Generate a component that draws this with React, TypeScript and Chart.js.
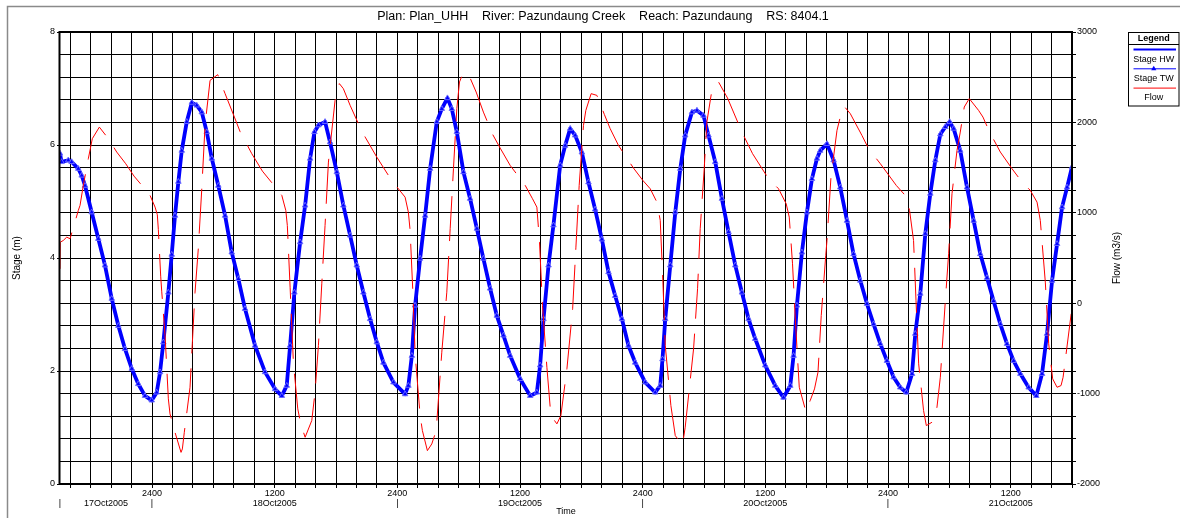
import React, { useEffect, useRef } from 'react';
import { Chart, registerables } from 'chart.js';

Chart.register(...registerables);

const FONT = '"Liberation Sans", Arial, Helvetica, sans-serif';

const titleText = 'Plan: Plan_UHH    River: Pazundaung Creek    Reach: Pazundaung    RS: 8404.1';
const stageAxisTitle = 'Stage (m)';
const flowAxisTitle = 'Flow (m3/s)';
const timeAxisTitle = 'Time';

// time in hours counted from 17Oct2005 0000
const timeMin = 15;
const timeMax = 114;
const timeTickHours = [24, 36, 48, 60, 72, 84, 96, 108];
const timeTickLabels = ['2400', '1200', '2400', '1200', '2400', '1200', '2400', '1200'];
const dateLabelHours = [19.5, 36, 60, 84, 108];
const dateLabels = ['17Oct2005', '18Oct2005', '19Oct2005', '20Oct2005', '21Oct2005'];
const dayMarkHours = [15, 24, 48, 72, 96];

const stageHours = [
  15.00, 15.15, 15.81, 16.14, 16.79, 17.12, 17.45, 18.10, 18.75, 19.40,
  20.06, 20.71, 21.36, 22.02, 22.66, 23.32, 23.97, 24.46, 24.79, 25.11,
  25.60, 25.93, 26.25, 26.58, 26.91, 27.40, 27.89, 28.38, 28.87, 29.36,
  29.85, 30.49, 31.15, 31.80, 32.45, 33.10, 34.08, 35.06, 36.04, 36.70,
  37.18, 37.51, 37.93, 38.49, 38.98, 39.47, 39.89, 40.28, 40.93, 41.42,
  42.08, 42.72, 43.38, 44.03, 44.68, 45.34, 45.99, 46.64, 47.62, 48.76,
  49.08, 49.42, 49.74, 50.23, 50.72, 51.21, 51.86, 52.35, 52.90, 53.33,
  53.82, 54.47, 55.12, 55.78, 56.42, 57.08, 57.73, 58.38, 59.04, 60.02,
  61.00, 61.65, 61.97, 62.30, 62.79, 63.27, 63.93, 64.42, 64.91, 65.40,
  66.05, 66.70, 67.35, 68.01, 68.66, 69.31, 69.97, 70.61, 71.27, 72.25,
  73.23, 73.72, 73.94, 74.21, 74.70, 75.19, 75.68, 76.16, 76.82, 77.31,
  77.95, 78.44, 79.10, 79.75, 80.40, 81.06, 81.71, 82.36, 83.01, 83.99,
  84.97, 85.78, 86.44, 86.76, 87.09, 87.58, 88.07, 88.56, 89.05, 89.37,
  90.03, 90.68, 91.33, 91.99, 92.63, 93.29, 93.94, 94.59, 95.25, 95.90,
  96.55, 97.20, 97.79, 98.35, 98.67, 99.16, 99.65, 100.14, 100.63, 101.12,
  101.61, 102.03, 102.42, 103.07, 103.73, 104.38, 105.03, 105.69, 106.33, 106.99,
  107.64, 108.29, 108.95, 109.76, 110.51, 111.07, 111.56, 112.05, 112.54, 113.03,
  113.52, 114.00,
];

const stageValues = [
  5.85, 5.70, 5.73, 5.70, 5.58, 5.46, 5.28, 4.81, 4.34, 3.87,
  3.28, 2.80, 2.39, 2.04, 1.77, 1.56, 1.48, 1.62, 1.98, 2.51,
  3.39, 4.06, 4.75, 5.35, 5.90, 6.41, 6.75, 6.70, 6.58, 6.23,
  5.76, 5.28, 4.75, 4.10, 3.63, 3.10, 2.45, 1.98, 1.68, 1.56,
  1.74, 2.45, 3.39, 4.28, 4.93, 5.76, 6.23, 6.35, 6.41, 6.05,
  5.52, 4.93, 4.40, 3.87, 3.39, 2.92, 2.51, 2.15, 1.80, 1.59,
  1.74, 2.27, 3.16, 3.99, 4.75, 5.58, 6.41, 6.64, 6.83, 6.64,
  6.23, 5.52, 5.05, 4.52, 3.99, 3.46, 2.98, 2.63, 2.27, 1.86,
  1.56, 1.62, 2.10, 2.92, 3.87, 4.58, 5.64, 5.99, 6.29, 6.17,
  5.87, 5.34, 4.86, 4.33, 3.75, 3.33, 2.92, 2.45, 2.15, 1.80,
  1.62, 1.74, 2.21, 2.92, 3.87, 4.81, 5.58, 6.17, 6.58, 6.61,
  6.52, 6.17, 5.70, 5.05, 4.46, 3.87, 3.39, 2.92, 2.57, 2.10,
  1.74, 1.53, 1.74, 2.27, 3.16, 4.10, 4.81, 5.40, 5.76, 5.90,
  6.02, 5.73, 5.25, 4.66, 4.07, 3.60, 3.19, 2.83, 2.48, 2.18,
  1.89, 1.71, 1.62, 1.95, 2.66, 3.37, 4.43, 5.14, 5.73, 6.19,
  6.32, 6.41, 6.29, 5.90, 5.25, 4.66, 4.07, 3.65, 3.24, 2.83,
  2.48, 2.18, 1.95, 1.71, 1.56, 1.95, 2.66, 3.60, 4.25, 4.90,
  5.25, 5.61,
];

const flowHours = [
  15.00, 15.03, 15.32, 15.66, 15.98, 16.37, 16.79, 16.96, 17.28, 17.77,
  18.16, 18.85, 19.73, 20.55, 21.43, 22.24, 23.15, 23.81, 24.30, 24.52,
  24.62, 24.85, 24.95, 25.28, 25.60, 25.76, 26.25, 26.84, 26.97, 27.16,
  27.72, 27.95, 28.21, 28.53, 28.87, 29.19, 29.68, 30.43, 31.15, 32.06,
  32.61, 33.76, 34.80, 35.72, 36.70, 37.09, 37.24, 37.51, 37.83, 38.26,
  38.55, 38.98, 39.63, 39.95, 40.28, 40.61, 40.93, 41.26, 41.91, 42.33,
  42.72, 43.38, 44.19, 44.85, 45.99, 47.13, 48.05, 48.76, 49.08, 49.25,
  49.52, 49.74, 50.23, 50.45, 50.94, 51.37, 51.80, 52.35, 52.84, 53.17,
  53.49, 53.82, 54.08, 54.47, 55.12, 55.71, 56.42, 57.34, 58.06, 59.04,
  60.51, 61.22, 61.65, 61.91, 62.20, 62.63, 63.02, 63.61, 64.00, 64.59,
  65.15, 65.47, 65.79, 66.21, 66.44, 66.96, 67.52, 68.26, 68.82, 69.63,
  71.10, 72.02, 72.74, 73.39, 73.72, 73.98, 74.21, 74.76, 75.19, 75.90,
  76.16, 76.98, 77.37, 77.63, 78.02, 78.28, 78.77, 79.42, 80.30, 81.71,
  82.75, 84.31, 85.29, 86.04, 86.34, 86.66, 86.93, 87.32, 87.97, 88.39,
  88.81, 89.15, 89.47, 89.91, 90.03, 90.42, 91.01, 91.33, 91.72, 92.31,
  93.45, 94.10, 95.25, 96.81, 97.69, 98.11, 98.50, 98.74, 99.00, 99.48,
  99.75, 100.30, 100.79, 101.12, 101.61, 101.93, 102.26, 102.75, 103.07, 103.46,
  103.95, 104.86, 105.29, 105.94, 106.99, 108.13, 109.11, 109.92, 110.58, 110.90,
  111.39, 111.72, 112.11, 112.54, 112.93, 113.13, 113.92,
];

const flowValues = [
  380, 675, 694, 731, 713, 860, 1026, 1082, 1303, 1598,
  1820, 1948, 1820, 1672, 1543, 1406, 1284, 1192, 1063, 979,
  816, 299, 133, -358, -1058, -1224, -1428, -1650, -1612, -1428,
  -930, -432, 122, 602, 1266, 1967, 2465, 2528, 2318, 2059,
  1900, 1654, 1461, 1333, 1192, 1026, 860, 177, -653, -1169,
  -1335, -1483, -1298, -985, -468, 215, 860, 1561, 2244, 2429,
  2373, 2189, 1986, 1838, 1616, 1414, 1273, 1173, 1007, 805,
  122, -560, -1243, -1409, -1631, -1557, -1409, -542, 122, 824,
  1488, 2152, 2447, 2557, 2491, 2336, 2114, 1864, 1716, 1524,
  1303, 1156, 1063, 675, -25, -708, -1243, -1335, -1243, -726,
  -62, 620, 1303, 1967, 2133, 2318, 2299, 2086, 1931, 1746,
  1495, 1358, 1266, 1118, 916, 233, -468, -1132, -1465, -1568,
  -1372, -505, 160, 824, 1488, 2004, 2355, 2447, 2270, 1893,
  1654, 1377, 1266, 1100, 952, 436, -173, -930, -1199, -1077,
  -948, -764, -136, 528, 694, 1395, 1912, 2059, 2177, 2097,
  1856, 1709, 1543, 1303, 1192, 1026, 694, 30, -671, -1188,
  -1354, -1317, -1151, -819, 30, 547, 1211, 1690, 1893, 2170,
  2263, 2133, 2059, 1893, 1672, 1488, 1340, 1248, 1118, 916,
  233, -449, -837, -930, -911, -819, -117,
];

const BLUE = '#0000ff';
const RED = '#ff0000';

function timeLabel(v: number): string | string[] {
  const i = timeTickHours.indexOf(v);
  const line1 = i >= 0 ? timeTickLabels[i] : '';
  const d = dateLabelHours.indexOf(v);
  const m = dayMarkHours.indexOf(v);
  const line2 = d >= 0 ? dateLabels[d] : m >= 0 ? '|' : '';
  if (!line1 && !line2) return '';
  return [line1, line2];
}

function isGridHour(v: number | undefined) {
  return v !== undefined && Math.abs(v % 2) < 1e-9 && v > timeMin;
}

const decorPlugin = {
  id: 'decor',
  beforeDraw(chart: any) {
    const ctx = chart.ctx;
    ctx.save();
    ctx.fillStyle = '#ffffff';
    ctx.fillRect(0, 0, chart.width, chart.height);
    ctx.strokeStyle = '#8a8a8a';
    ctx.lineWidth = 1.5;
    ctx.beginPath();
    ctx.moveTo(7.5, chart.height);
    ctx.lineTo(7.5, 6.5);
    ctx.lineTo(chart.width, 6.5);
    ctx.stroke();
    ctx.fillStyle = '#000';
    ctx.font = `12.5px ${FONT}`;
    ctx.textAlign = 'center';
    ctx.textBaseline = 'middle';
    ctx.fillText(titleText, 603, 17);
    ctx.restore();
  },
  afterDatasetsDraw(chart: any) {
    const { ctx, chartArea: a } = chart;
    ctx.save();
    ctx.strokeStyle = '#000';
    ctx.lineWidth = 2;
    ctx.strokeRect(a.left - 0.5, a.top, a.right - a.left + 0.5, a.bottom - a.top);
    ctx.restore();
  },
  afterDraw(chart: any) {
    const ctx = chart.ctx;
    const a = chart.chartArea;
    ctx.save();
    // right axis title (reads bottom to top)
    ctx.fillStyle = '#000';
    ctx.font = `10px ${FONT}`;
    ctx.textAlign = 'center';
    ctx.textBaseline = 'middle';
    ctx.translate(1117, (a.top + a.bottom) / 2);
    ctx.rotate(-Math.PI / 2);
    ctx.fillText(flowAxisTitle, 0, 0);
    ctx.restore();

    // legend box
    ctx.save();
    const lx = 1128.5, ly = 32.5, lw = 50.5, lh = 73.5;
    ctx.fillStyle = '#fff';
    ctx.fillRect(lx, ly, lw, lh);
    ctx.strokeStyle = '#000';
    ctx.lineWidth = 1;
    ctx.strokeRect(lx, ly, lw, lh);
    ctx.beginPath();
    ctx.moveTo(lx, 44.5);
    ctx.lineTo(lx + lw, 44.5);
    ctx.stroke();
    ctx.fillStyle = '#000';
    ctx.font = `bold 9px ${FONT}`;
    ctx.textAlign = 'center';
    ctx.textBaseline = 'middle';
    const cx = lx + lw / 2;
    ctx.fillText('Legend', cx, 38.5);
    const dsets = chart.data.datasets;
    dsets.forEach((ds: any, i: number) => {
      const lineY = 49.5 + i * 19.3;
      const textY = 59.7 + i * 19.0;
      ctx.strokeStyle = ds.borderColor;
      ctx.lineWidth = i === 0 ? 2 : 1;
      ctx.beginPath();
      ctx.moveTo(lx + 5, lineY);
      ctx.lineTo(lx + lw - 3, lineY);
      ctx.stroke();
      if (ds.pointRadius && ds.pointRadius > 0) {
        ctx.fillStyle = ds.borderColor;
        ctx.beginPath();
        ctx.moveTo(cx, lineY - 3);
        ctx.lineTo(cx + 2.6, lineY + 1.5);
        ctx.lineTo(cx - 2.6, lineY + 1.5);
        ctx.closePath();
        ctx.fill();
      }
      ctx.fillStyle = '#000';
      ctx.font = `9px ${FONT}`;
      ctx.fillText(ds.label, cx, textY);
    });
    ctx.restore();
  },
};

export default function App() {
  const ref = useRef<HTMLCanvasElement | null>(null);

  useEffect(() => {
    const canvas = ref.current;
    if (!canvas) return;
    const stagePoints = stageHours.map((h, i) => ({ x: h, y: stageValues[i] }));
    const flowPoints = flowHours.map((h, i) => ({ x: h, y: flowValues[i] }));

    const chart = new Chart(canvas, {
      type: 'line',
      data: {
        datasets: [
          {
            label: 'Stage HW',
            data: stagePoints,
            yAxisID: 'y',
            borderColor: BLUE,
            backgroundColor: BLUE,
            borderWidth: 3.8,
            pointRadius: 0,
            tension: 0,
            borderJoinStyle: 'round',
            order: 2,
          },
          {
            label: 'Stage TW',
            data: stagePoints,
            yAxisID: 'y',
            borderColor: BLUE,
            backgroundColor: BLUE,
            borderWidth: 1,
            pointStyle: 'triangle',
            pointRadius: 3.2,
            pointBorderWidth: 1,
            pointBackgroundColor: BLUE,
            pointBorderColor: 'rgba(110,110,255,0.95)',
            tension: 0,
            order: 1,
          },
          {
            label: 'Flow',
            data: flowPoints,
            yAxisID: 'y2',
            borderColor: RED,
            backgroundColor: RED,
            borderWidth: 1,
            borderDash: [45, 15],
            pointRadius: 0,
            tension: 0,
            order: 0,
          },
        ],
      },
      options: {
        responsive: false,
        animation: false,
        events: [],
        layout: { padding: { top: 32, left: 0, right: 0, bottom: 0 } },
        plugins: {
          legend: { display: false },
          title: { display: false },
          tooltip: { enabled: false },
        },
        scales: {
          x: {
            type: 'linear',
            position: 'bottom',
            min: timeMin,
            max: timeMax,
            afterBuildTicks: (axis: any) => {
              const vals = new Set<number>([...dayMarkHours, ...dateLabelHours]);
              for (let h = 16; h <= timeMax; h += 2) vals.add(h);
              axis.ticks = Array.from(vals)
                .sort((p, q) => p - q)
                .map((v) => ({ value: v }));
            },
            afterFit: (axis: any) => {
              axis.height = 34;
            },
            grid: {
              color: (c: any) => (isGridHour(c.tick?.value) ? '#000' : 'rgba(0,0,0,0)'),
              tickColor: (c: any) => (isGridHour(c.tick?.value) ? '#000' : 'rgba(0,0,0,0)'),
              lineWidth: 1,
              tickLength: 4,
            },
            border: { display: false },
            ticks: {
              autoSkip: false,
              maxRotation: 0,
              minRotation: 0,
              padding: 1,
              color: '#000',
              font: { family: FONT, size: 9, lineHeight: 1.1 },
              callback: (v: any) => timeLabel(Number(v)),
            },
            title: {
              display: true,
              text: timeAxisTitle,
              color: '#000',
              font: { family: FONT, size: 9 },
              padding: { top: 0, bottom: 1 },
            },
          },
          y: {
            type: 'linear',
            position: 'left',
            min: 0,
            max: 8,
            afterFit: (s: any) => {
              s.width = 60;
            },
            ticks: {
              stepSize: 2,
              padding: 2,
              color: '#000',
              font: { family: FONT, size: 9 },
            },
            grid: {
              color: (c: any) =>
                c.tick && (c.tick.value === 0 || c.tick.value === 8) ? 'rgba(0,0,0,0)' : '#c4c4c4',
              tickColor: '#000',
              tickLength: 3,
              lineWidth: 1,
            },
            border: { display: false },
            title: {
              display: true,
              text: stageAxisTitle,
              color: '#000',
              font: { family: FONT, size: 10 },
              padding: { top: 11, bottom: 0 },
            },
          },
          y2: {
            type: 'linear',
            position: 'right',
            min: -2000,
            max: 3000,
            afterFit: (s: any) => {
              s.width = 108;
            },
            ticks: {
              stepSize: 250,
              autoSkip: false,
              padding: 1,
              color: '#000',
              font: { family: FONT, size: 9 },
              callback: (v: any) => (Number(v) % 1000 === 0 ? String(v) : ''),
            },
            grid: {
              color: '#000',
              tickColor: '#000',
              tickLength: 4,
              lineWidth: 1,
              drawOnChartArea: true,
            },
            border: { display: false },
          },
        },
      },
      plugins: [decorPlugin],
    } as any);

    return () => chart.destroy();
  }, []);

  return (
    <div style={{ position: 'fixed', left: 0, top: 0, width: 1180, height: 518, background: '#fff' }}>
      <canvas ref={ref} width={1180} height={518} style={{ display: 'block', width: 1180, height: 518 }} />
    </div>
  );
}
